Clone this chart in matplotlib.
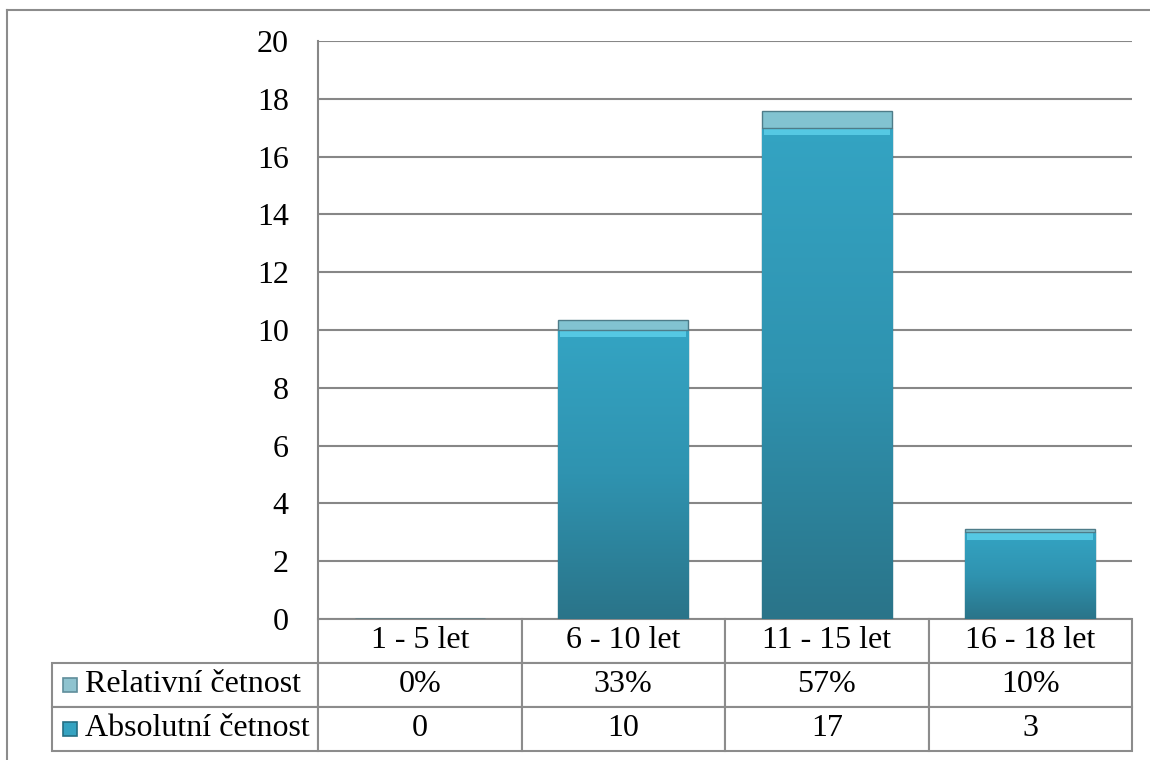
import numpy as np
import matplotlib
matplotlib.use('Agg')
import matplotlib.pyplot as plt
from matplotlib.patches import Rectangle
from matplotlib.lines import Line2D
from matplotlib.table import Table
from matplotlib.colors import LinearSegmentedColormap

categories = ['1 - 5 let', '6 - 10 let', '11 - 15 let', '16 - 18 let']
absolutni = [0, 10, 17, 3]
relativni = [0.0, 0.33, 0.57, 0.10]
series = ['Relativní četnost', 'Absolutní četnost']
yticks = [0, 2, 4, 6, 8, 10, 12, 14, 16, 18, 20]

plt.rcParams['font.family'] = ['Liberation Serif', 'DejaVu Serif']

W, H = 1150, 760
fig = plt.figure(figsize=(W / 100, H / 100), dpi=100)
# plot area in pixels: x 318..1132, y 41..619
ax = fig.add_axes([318 / W, 1 - 619 / H, 814 / W, 578 / H])

x = np.arange(len(categories))
bw = 0.64
grad = np.linspace(0, 1, 256).reshape(-1, 1)
cmap_abs = LinearSegmentedColormap.from_list('abs', ['#2A7489', '#2F93B0', '#34A4C3'])

# absolute counts (main bars with a vertical gradient)
bars = ax.bar(x, absolutni, bw, color='#2F96B3', edgecolor='#2B6B7E', lw=1, zorder=2)
for b, v in zip(bars, absolutni):
    if v <= 0:
        continue
    im = ax.imshow(grad, extent=(b.get_x(), b.get_x() + bw, 0, v), origin='lower',
                   cmap=cmap_abs, aspect='auto', zorder=2.1)
    im.set_clip_path(b)
# light bevel at the top of each bar
bev = [0.22 if v > 0 else 0 for v in absolutni]
ax.bar(x, bev, bw * 0.97, bottom=[v - 0.25 for v in absolutni], color='#55C8E3', lw=0, zorder=2.2)

# relative share stacked on top
ax.bar(x, relativni, bw, bottom=absolutni, color='#82C3D1', edgecolor='#4E7C89', lw=1, zorder=2.3)

ax.set_xlim(-0.5, len(categories) - 0.5)
ax.set_ylim(0, 20)
ax.set_yticks(yticks)
ax.set_xticks([])
ax.tick_params(axis='y', length=0, pad=21, labelsize=23)
ax.grid(axis='y', color='#878787', lw=1.5)
ax.set_axisbelow(True)
for s in ['top', 'right', 'bottom']:
    ax.spines[s].set_visible(False)
ax.spines['left'].set_color('#878787')
ax.spines['left'].set_linewidth(1.5)

# data table under the chart, built cell by cell
rows = [[f'{round(r * 100)}%' for r in relativni], [str(a) for a in absolutni]]
tab = Table(ax, bbox=[(52 - 318) / 814, -132 / 578, (1132 - 52) / 814, 132 / 578])
lab_w, col_w = 266, 203.5
for j, cat in enumerate(categories):
    tab.add_cell(0, j + 1, col_w, 1, text=cat, loc='center')
for i, (name, vals) in enumerate(zip(series, rows)):
    c = tab.add_cell(i + 1, 0, lab_w, 1, text=name, loc='left')
    c.PAD = 33 / lab_w
    for j, v in enumerate(vals):
        tab.add_cell(i + 1, j + 1, col_w, 1, text=v, loc='center')
tab.auto_set_font_size(False)
tab.set_fontsize(23)
for cell in tab.get_celld().values():
    cell.set_edgecolor('#8C8C8C')
    cell.set_linewidth(1.5)
ax.add_table(tab)

# legend keys inside the row label cells
key_colors = [('#8FC3CF', '#5F8E9B'), ('#35A3C1', '#256F84')]
for i, (fc, ec) in enumerate(key_colors):
    cy = 685 + i * 44
    ax.add_patch(Rectangle(((63 - 318) / 814, (619 - cy - 7) / 578), 14 / 814, 14 / 578,
                           transform=ax.transAxes, facecolor=fc, edgecolor=ec,
                           lw=1.2, clip_on=False, zorder=5))

# outer frame of the chart area
fig.add_artist(Line2D([7 / W, 7 / W], [0, 1 - 10 / H], transform=fig.transFigure,
                      color='#8C8C8C', lw=1.5))
fig.add_artist(Line2D([7 / W, 1], [1 - 10 / H, 1 - 10 / H], transform=fig.transFigure,
                      color='#8C8C8C', lw=1.5))

fig.savefig('out.png', dpi=100)
